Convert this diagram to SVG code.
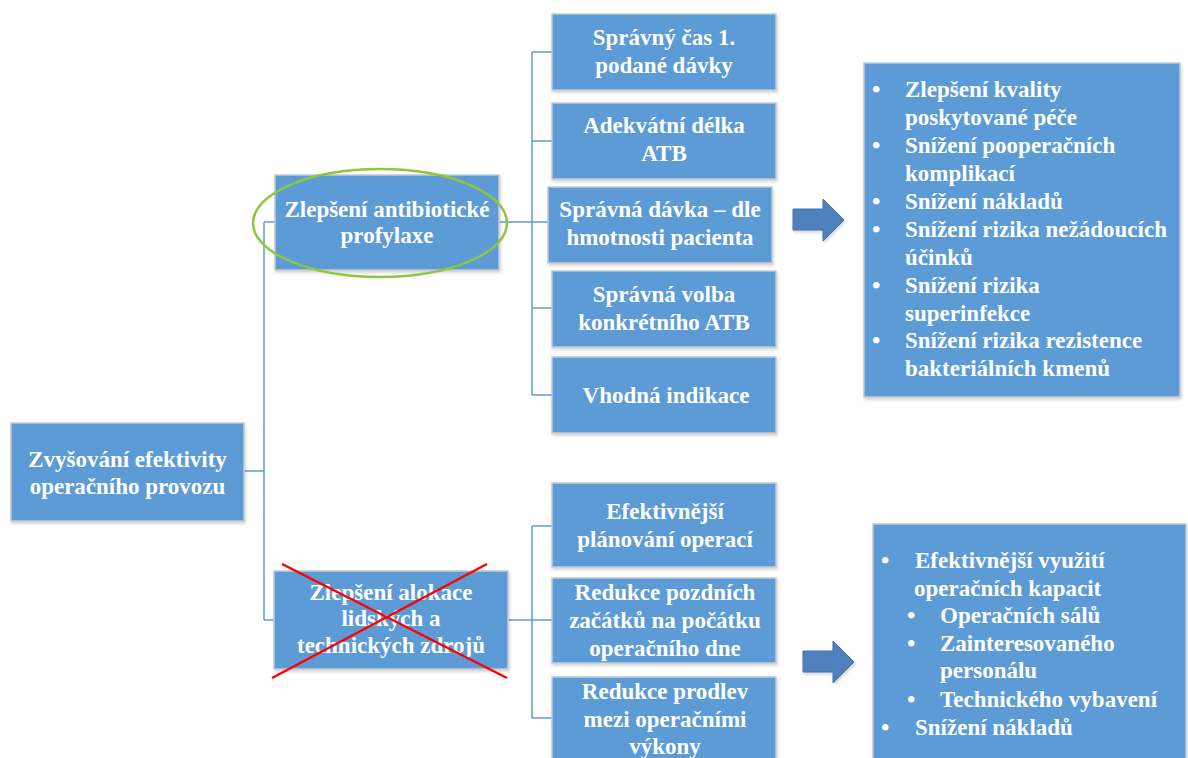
<svg xmlns="http://www.w3.org/2000/svg" width="1188" height="758" viewBox="0 0 1188 758">
  <style>
    .box { fill: #5B9BD5; stroke: #C3CAD2; stroke-width: 1.5; filter: url(#shadow); }
    .lbl { font-family: 'Liberation Serif', 'Times New Roman', serif; font-weight: bold; font-size: 23px; fill: #FFFFFF; text-anchor: middle; }
    .lst { font-family: 'Liberation Serif', 'Times New Roman', serif; font-weight: bold; font-size: 23px; fill: #FFFFFF; }
    .bul { font-family: 'Liberation Serif', 'Times New Roman', serif; font-weight: bold; font-size: 24px; fill: #FFFFFF; }
    .conn { fill: none; stroke: #5B9BD5; stroke-width: 1.5; }
    .arrow { fill: #4E80BC; stroke: #4672A8; stroke-width: 1; filter: url(#shadow); }
  </style>
  <defs>
    <filter id="shadow" x="-10%" y="-10%" width="120%" height="130%">
      <feDropShadow dx="1" dy="2" stdDeviation="1.5" flood-color="#000000" flood-opacity="0.18"/>
    </filter>
  </defs>

  <rect width="1188" height="758" fill="#FFFFFF"/>

  <!-- connectors -->
  <g id="connectors">
    <path class="conn" d="M244 471 H264"/>
    <path class="conn" d="M264 222 V620"/>
    <path class="conn" d="M264 222 H275"/>
    <path class="conn" d="M264 620 H275"/>
    <path class="conn" d="M499 222 H532"/>
    <path class="conn" d="M532 52 V395"/>
    <path class="conn" d="M532 52 H552"/>
    <path class="conn" d="M532 141 H552"/>
    <path class="conn" d="M532 222 H548"/>
    <path class="conn" d="M532 308 H552"/>
    <path class="conn" d="M532 395 H552"/>
    <path class="conn" d="M508 620 H532"/>
    <path class="conn" d="M532 526 V718"/>
    <path class="conn" d="M532 526 H552"/>
    <path class="conn" d="M532 620 H552"/>
    <path class="conn" d="M532 718 H552"/>
  </g>

  <!-- root -->
  <g id="root">
    <rect class="box" x="11" y="423" width="233" height="98"/>
    <text class="lbl" x="127.5" y="467">Zvyšování efektivity</text>
    <text class="lbl" x="127.5" y="494">operačního provozu</text>
  </g>

  <!-- branch: antibiotic prophylaxis -->
  <g id="prophylaxis">
    <rect class="box" x="275" y="175" width="224" height="95"/>
    <text class="lbl" x="387" y="217">Zlepšení antibiotické</text>
    <text class="lbl" x="387" y="243">profylaxe</text>
    <ellipse cx="380" cy="223" rx="127" ry="54" fill="none" stroke="#8DC63F" stroke-width="2.5"/>
  </g>

  <!-- branch: resource allocation (crossed out) -->
  <g id="allocation">
    <rect class="box" x="274" y="571" width="234" height="98"/>
    <text class="lbl" x="391" y="600">Zlepšení alokace</text>
    <text class="lbl" x="391" y="626">lidských a</text>
    <text class="lbl" x="391" y="653">technických zdrojů</text>
    <line x1="282" y1="564" x2="507" y2="678" stroke="#FF0000" stroke-width="2.5"/>
    <line x1="487" y1="564" x2="272" y2="678" stroke="#FF0000" stroke-width="2.5"/>
  </g>

  <!-- prophylaxis children -->
  <g id="first-dose">
    <rect class="box" x="552" y="14" width="224" height="76"/>
    <text class="lbl" x="664" y="45">Správný čas 1.</text>
    <text class="lbl" x="664" y="73">podané dávky</text>
  </g>
  <g id="duration">
    <rect class="box" x="552" y="103" width="224" height="76"/>
    <text class="lbl" x="664" y="133">Adekvátní délka</text>
    <text class="lbl" x="664" y="161">ATB</text>
  </g>
  <g id="dose">
    <rect class="box" x="548" y="187" width="224" height="76"/>
    <text class="lbl" x="660" y="217">Správná dávka – dle</text>
    <text class="lbl" x="660" y="245">hmotnosti pacienta</text>
  </g>
  <g id="choice">
    <rect class="box" x="552" y="271" width="224" height="76"/>
    <text class="lbl" x="664" y="302">Správná volba</text>
    <text class="lbl" x="664" y="330">konkrétního ATB</text>
  </g>
  <g id="indication">
    <rect class="box" x="552" y="357" width="224" height="76"/>
    <text class="lbl" x="666" y="403">Vhodná indikace</text>
  </g>

  <!-- allocation children -->
  <g id="planning">
    <rect class="box" x="552" y="483" width="224" height="84"/>
    <text class="lbl" x="665" y="519">Efektivnější</text>
    <text class="lbl" x="665" y="547">plánování operací</text>
  </g>
  <g id="late-starts">
    <rect class="box" x="552" y="578" width="224" height="85"/>
    <text class="lbl" x="665" y="600">Redukce pozdních</text>
    <text class="lbl" x="665" y="628">začátků na počátku</text>
    <text class="lbl" x="665" y="656">operačního dne</text>
  </g>
  <g id="turnover">
    <rect class="box" x="552" y="677" width="224" height="95"/>
    <text class="lbl" x="665" y="699">Redukce prodlev</text>
    <text class="lbl" x="665" y="727">mezi operačními</text>
    <text class="lbl" x="665" y="754">výkony</text>
  </g>

  <!-- arrows -->
  <g id="arrow-top">
    <path class="arrow" d="M793 209 H823 V199 L844 220 L823 241 V230 H793 Z"/>
  </g>
  <g id="arrow-bottom">
    <path class="arrow" d="M803 651 H833 V641 L854 662 L833 683 V672 H803 Z"/>
  </g>

  <!-- outcomes: prophylaxis -->
  <g id="outcomes-prophylaxis">
    <rect class="box" x="864" y="63" width="316" height="334"/>
    <text class="bul" x="872" y="97">•</text>
    <text class="lst" x="905" y="97">Zlepšení kvality</text>
    <text class="lst" x="905" y="125">poskytované péče</text>
    <text class="bul" x="872" y="153">•</text>
    <text class="lst" x="905" y="153">Snížení pooperačních</text>
    <text class="lst" x="905" y="181">komplikací</text>
    <text class="bul" x="872" y="209">•</text>
    <text class="lst" x="905" y="209">Snížení nákladů</text>
    <text class="bul" x="872" y="237">•</text>
    <text class="lst" x="905" y="237">Snížení rizika nežádoucích</text>
    <text class="lst" x="905" y="265">účinků</text>
    <text class="bul" x="872" y="293">•</text>
    <text class="lst" x="905" y="293">Snížení rizika</text>
    <text class="lst" x="905" y="321">superinfekce</text>
    <text class="bul" x="872" y="348">•</text>
    <text class="lst" x="905" y="348">Snížení rizika rezistence</text>
    <text class="lst" x="905" y="376">bakteriálních kmenů</text>
  </g>

  <!-- outcomes: allocation -->
  <g id="outcomes-allocation">
    <rect class="box" x="873" y="524" width="313" height="250"/>
    <text class="bul" x="881" y="568">•</text>
    <text class="lst" x="915" y="568">Efektivnější využití</text>
    <text class="lst" x="914" y="596">operačních kapacit</text>
    <text class="bul" x="907" y="623">•</text>
    <text class="lst" x="940" y="623">Operačních sálů</text>
    <text class="bul" x="907" y="651">•</text>
    <text class="lst" x="940" y="651">Zainteresovaného</text>
    <text class="lst" x="940" y="678">personálu</text>
    <text class="bul" x="907" y="707">•</text>
    <text class="lst" x="940" y="707">Technického vybavení</text>
    <text class="bul" x="881" y="735">•</text>
    <text class="lst" x="915" y="735">Snížení nákladů</text>
  </g>
</svg>
